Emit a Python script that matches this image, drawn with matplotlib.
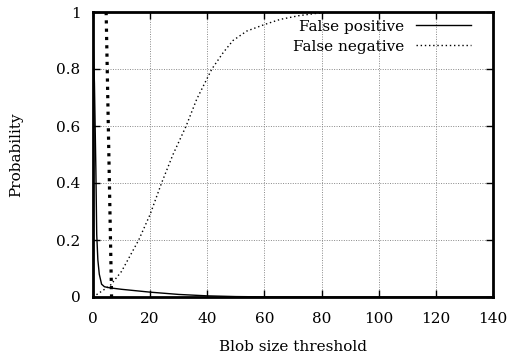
import matplotlib
matplotlib.use('Agg')
import matplotlib.pyplot as plt

# Data
fp_x = [0, 0.5, 1.0, 1.3, 1.7, 2.2, 3.0, 4.0, 6.0, 10, 15, 20, 30, 40, 50, 60, 80, 100, 120, 140]
fp_y = [0.92, 0.75, 0.45, 0.22, 0.13, 0.08, 0.045, 0.036, 0.032, 0.027, 0.022, 0.017, 0.009, 0.004, 0.0015, 0.0005, 0, 0, 0, 0]

fn_x = [0, 3, 6, 10, 16, 20, 24, 28, 32.6, 36.3, 41.6, 45.6, 49, 53.8, 60, 65.5, 72, 78, 84, 100, 120, 140]
fn_y = [0.0, 0.02, 0.04, 0.09, 0.2, 0.29, 0.4, 0.5, 0.6, 0.694, 0.8, 0.858, 0.9, 0.933, 0.956, 0.974, 0.987, 0.995, 1.0, 1.0, 1.0, 1.0]

thr_x = [4.6, 6.5]
thr_y = [1.0, 0.0]

x_ticks = [0, 20, 40, 60, 80, 100, 120, 140]
y_ticks = [0, 0.2, 0.4, 0.6, 0.8, 1]
y_ticklabels = ['0', '0.2', '0.4', '0.6', '0.8', '1']

plt.rcParams['font.family'] = ['DejaVu Serif']
plt.rcParams['font.size'] = 11

fig = plt.figure(figsize=(5.08, 3.58), dpi=100)
ax = fig.add_axes([93/508, 1 - 297/358, 400/508, 285/358])

ax.plot(fp_x, fp_y, color='black', lw=1.0, label='False positive')
ax.plot(fn_x, fn_y, color='black', lw=1.0, linestyle=(0, (1, 2)), label='False negative')
ax.plot(thr_x, thr_y, color='black', lw=2.3, linestyle=(0, (1, 1.6)), dash_capstyle='butt')

ax.set_xlim(0, 140)
ax.set_ylim(0, 1)
ax.set_xticks(x_ticks)
ax.set_yticks(y_ticks)
ax.set_yticklabels(y_ticklabels)
ax.grid(True, color='#888888', linestyle=(0, (1, 1.5)), lw=0.7)
ax.tick_params(direction='in', length=5, width=1, top=True, right=True)
ax.tick_params(axis='x', pad=11)
ax.tick_params(axis='y', pad=9)
for s in ax.spines.values():
    s.set_linewidth(2)

ax.set_xlabel('Blob size threshold', labelpad=10)
ax.set_ylabel('Probability', labelpad=24)

leg = ax.legend(loc='upper right', frameon=False, markerfirst=False, handlelength=3.6,
                borderaxespad=0.1, labelspacing=0.4, bbox_to_anchor=(0.965, 1.0))

fig.savefig('out.png', dpi=100)
